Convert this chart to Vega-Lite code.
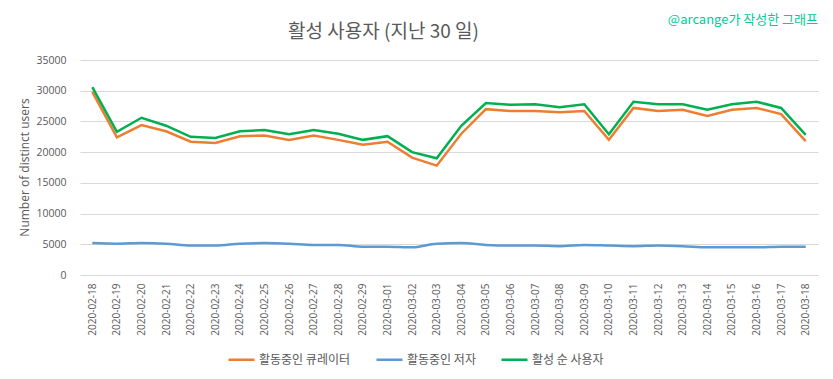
{
  "$schema": "https://vega.github.io/schema/vega-lite/v6.json",
  "width": 738,
  "height": 215,
  "autosize": {"type": "none"},
  "padding": {"left": 80, "top": 60, "right": 15, "bottom": 104},
  "background": "white",
  "title": {
    "text": "@arcange가 작성한 그래프",
    "anchor": "end",
    "frame": "group",
    "font": "Noto Sans CJK KR",
    "fontSize": 13,
    "fontWeight": "normal",
    "color": "#00CC99",
    "baseline": "alphabetic",
    "offset": 0,
    "dy": 15
  },
  "datasets": {
    "rows": [
      {"date": "2020-02-18", "series": "활동중인 큐레이터", "value": 29800},
      {"date": "2020-02-19", "series": "활동중인 큐레이터", "value": 22400},
      {"date": "2020-02-20", "series": "활동중인 큐레이터", "value": 24400},
      {"date": "2020-02-21", "series": "활동중인 큐레이터", "value": 23400},
      {"date": "2020-02-22", "series": "활동중인 큐레이터", "value": 21700},
      {"date": "2020-02-23", "series": "활동중인 큐레이터", "value": 21500},
      {"date": "2020-02-24", "series": "활동중인 큐레이터", "value": 22600},
      {"date": "2020-02-25", "series": "활동중인 큐레이터", "value": 22700},
      {"date": "2020-02-26", "series": "활동중인 큐레이터", "value": 22000},
      {"date": "2020-02-27", "series": "활동중인 큐레이터", "value": 22700},
      {"date": "2020-02-28", "series": "활동중인 큐레이터", "value": 22000},
      {"date": "2020-02-29", "series": "활동중인 큐레이터", "value": 21200},
      {"date": "2020-03-01", "series": "활동중인 큐레이터", "value": 21700},
      {"date": "2020-03-02", "series": "활동중인 큐레이터", "value": 19100},
      {"date": "2020-03-03", "series": "활동중인 큐레이터", "value": 17800},
      {"date": "2020-03-04", "series": "활동중인 큐레이터", "value": 23000},
      {"date": "2020-03-05", "series": "활동중인 큐레이터", "value": 27000},
      {"date": "2020-03-06", "series": "활동중인 큐레이터", "value": 26700},
      {"date": "2020-03-07", "series": "활동중인 큐레이터", "value": 26700},
      {"date": "2020-03-08", "series": "활동중인 큐레이터", "value": 26500},
      {"date": "2020-03-09", "series": "활동중인 큐레이터", "value": 26700},
      {"date": "2020-03-10", "series": "활동중인 큐레이터", "value": 22000},
      {"date": "2020-03-11", "series": "활동중인 큐레이터", "value": 27200},
      {"date": "2020-03-12", "series": "활동중인 큐레이터", "value": 26700},
      {"date": "2020-03-13", "series": "활동중인 큐레이터", "value": 26900},
      {"date": "2020-03-14", "series": "활동중인 큐레이터", "value": 25900},
      {"date": "2020-03-15", "series": "활동중인 큐레이터", "value": 26900},
      {"date": "2020-03-16", "series": "활동중인 큐레이터", "value": 27200},
      {"date": "2020-03-17", "series": "활동중인 큐레이터", "value": 26200},
      {"date": "2020-03-18", "series": "활동중인 큐레이터", "value": 21800},
      {"date": "2020-02-18", "series": "활동중인 저자", "value": 5200},
      {"date": "2020-02-19", "series": "활동중인 저자", "value": 5100},
      {"date": "2020-02-20", "series": "활동중인 저자", "value": 5200},
      {"date": "2020-02-21", "series": "활동중인 저자", "value": 5100},
      {"date": "2020-02-22", "series": "활동중인 저자", "value": 4800},
      {"date": "2020-02-23", "series": "활동중인 저자", "value": 4800},
      {"date": "2020-02-24", "series": "활동중인 저자", "value": 5100},
      {"date": "2020-02-25", "series": "활동중인 저자", "value": 5200},
      {"date": "2020-02-26", "series": "활동중인 저자", "value": 5100},
      {"date": "2020-02-27", "series": "활동중인 저자", "value": 4900},
      {"date": "2020-02-28", "series": "활동중인 저자", "value": 4900},
      {"date": "2020-02-29", "series": "활동중인 저자", "value": 4600},
      {"date": "2020-03-01", "series": "활동중인 저자", "value": 4600},
      {"date": "2020-03-02", "series": "활동중인 저자", "value": 4500},
      {"date": "2020-03-03", "series": "활동중인 저자", "value": 5100},
      {"date": "2020-03-04", "series": "활동중인 저자", "value": 5200},
      {"date": "2020-03-05", "series": "활동중인 저자", "value": 4900},
      {"date": "2020-03-06", "series": "활동중인 저자", "value": 4800},
      {"date": "2020-03-07", "series": "활동중인 저자", "value": 4800},
      {"date": "2020-03-08", "series": "활동중인 저자", "value": 4700},
      {"date": "2020-03-09", "series": "활동중인 저자", "value": 4900},
      {"date": "2020-03-10", "series": "활동중인 저자", "value": 4800},
      {"date": "2020-03-11", "series": "활동중인 저자", "value": 4700},
      {"date": "2020-03-12", "series": "활동중인 저자", "value": 4800},
      {"date": "2020-03-13", "series": "활동중인 저자", "value": 4700},
      {"date": "2020-03-14", "series": "활동중인 저자", "value": 4500},
      {"date": "2020-03-15", "series": "활동중인 저자", "value": 4500},
      {"date": "2020-03-16", "series": "활동중인 저자", "value": 4500},
      {"date": "2020-03-17", "series": "활동중인 저자", "value": 4600},
      {"date": "2020-03-18", "series": "활동중인 저자", "value": 4600},
      {"date": "2020-02-18", "series": "활성 순 사용자", "value": 30600},
      {"date": "2020-02-19", "series": "활성 순 사용자", "value": 23300},
      {"date": "2020-02-20", "series": "활성 순 사용자", "value": 25600},
      {"date": "2020-02-21", "series": "활성 순 사용자", "value": 24300},
      {"date": "2020-02-22", "series": "활성 순 사용자", "value": 22500},
      {"date": "2020-02-23", "series": "활성 순 사용자", "value": 22300},
      {"date": "2020-02-24", "series": "활성 순 사용자", "value": 23400},
      {"date": "2020-02-25", "series": "활성 순 사용자", "value": 23600},
      {"date": "2020-02-26", "series": "활성 순 사용자", "value": 22900},
      {"date": "2020-02-27", "series": "활성 순 사용자", "value": 23600},
      {"date": "2020-02-28", "series": "활성 순 사용자", "value": 23000},
      {"date": "2020-02-29", "series": "활성 순 사용자", "value": 22000},
      {"date": "2020-03-01", "series": "활성 순 사용자", "value": 22600},
      {"date": "2020-03-02", "series": "활성 순 사용자", "value": 20000},
      {"date": "2020-03-03", "series": "활성 순 사용자", "value": 19000},
      {"date": "2020-03-04", "series": "활성 순 사용자", "value": 24300},
      {"date": "2020-03-05", "series": "활성 순 사용자", "value": 28000},
      {"date": "2020-03-06", "series": "활성 순 사용자", "value": 27700},
      {"date": "2020-03-07", "series": "활성 순 사용자", "value": 27800},
      {"date": "2020-03-08", "series": "활성 순 사용자", "value": 27300},
      {"date": "2020-03-09", "series": "활성 순 사용자", "value": 27800},
      {"date": "2020-03-10", "series": "활성 순 사용자", "value": 22900},
      {"date": "2020-03-11", "series": "활성 순 사용자", "value": 28200},
      {"date": "2020-03-12", "series": "활성 순 사용자", "value": 27800},
      {"date": "2020-03-13", "series": "활성 순 사용자", "value": 27800},
      {"date": "2020-03-14", "series": "활성 순 사용자", "value": 26900},
      {"date": "2020-03-15", "series": "활성 순 사용자", "value": 27800},
      {"date": "2020-03-16", "series": "활성 순 사용자", "value": 28200},
      {"date": "2020-03-17", "series": "활성 순 사용자", "value": 27200},
      {"date": "2020-03-18", "series": "활성 순 사용자", "value": 22800}
    ]
  },
  "data": {"name": "rows"},
  "encoding": {
    "y": {
      "field": "value", "type": "quantitative",
      "scale": {"domain": [0, 35000], "nice": false},
      "axis": {
        "values": [0, 5000, 10000, 15000, 20000, 25000, 30000, 35000],
        "format": "d", "title": "Number of distinct users", "titleFont": "Open Sans",
        "titleFontSize": 12, "titleFontWeight": "normal", "titleColor": "#595959",
        "titleX": -49, "titleY": 107, "labelFont": "Open Sans", "labelFontSize": 10.5,
        "labelColor": "#595959", "labelPadding": 14, "labelOverlap": false, "ticks": false, "domain": false,
        "grid": true, "gridColor": "#D9D9D9", "gridWidth": 1
      }
    },
    "color": {
      "field": "series", "type": "nominal",
      "scale": {"domain": ["활동중인 큐레이터", "활동중인 저자", "활성 순 사용자"], "range": ["#ED7D31", "#5B9BD5", "#00B050"]},
      "legend": {
        "orient": "none", "legendX": 147, "legendY": 285, "direction": "horizontal",
        "title": null, "symbolType": "stroke", "symbolStrokeWidth": 2.5, "symbolSize": 676,
        "labelFont": "Noto Sans CJK KR", "labelFontSize": 12, "labelColor": "#595959",
        "columnPadding": 20, "labelOffset": 3
      }
    }
  },
  "layer": [
    {
      "transform": [{"filter": "datum.series !== '활동중인 저자'"}],
      "mark": {"type": "line", "strokeWidth": 2.5, "interpolate": "linear"},
      "encoding": {
        "x": {
          "field": "date", "type": "ordinal",
          "scale": {"type": "point", "padding": 0.5},
          "axis": {
            "orient": "bottom", "title": null, "labelAngle": -90, "labelFont": "Open Sans",
            "labelFontSize": 10, "labelColor": "#595959", "labelPadding": 8, "ticks": false,
            "domain": false, "grid": false
          }
        }
      }
    },
    {
      "transform": [{"filter": "datum.series === '활동중인 저자'"}],
      "mark": {"type": "line", "strokeWidth": 2.5, "interpolate": "monotone"},
      "encoding": {
        "x": {
          "field": "date", "type": "ordinal",
          "scale": {"type": "point", "padding": 0.5},
          "axis": {
            "orient": "top", "labels": false, "ticks": false, "domain": false, "grid": false,
            "title": "활성 사용자 (지난 30 일)", "titleFont": "Noto Sans CJK KR", "titleFontSize": 19,
            "titleFontWeight": "normal", "titleColor": "#595959", "titleX": 303, "titleY": -23,
            "titleAlign": "center", "titleBaseline": "alphabetic", "titleAnchor": null
          }
        }
      }
    }
  ],
  "resolve": {"axis": {"x": "independent"}},
  "config": {"view": {"stroke": null}}
}
